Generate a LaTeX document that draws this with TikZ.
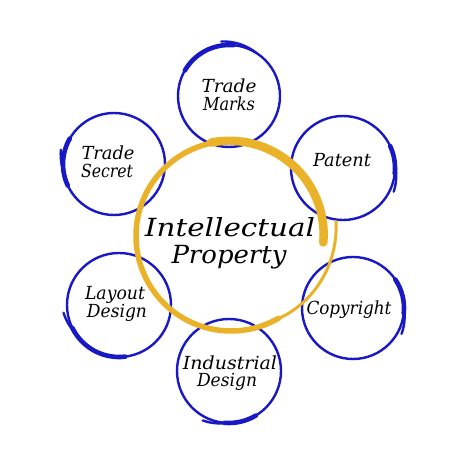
\documentclass[tikz,border=0pt]{standalone}
\usepackage{graphicx}
\usepackage{fontspec}
\setmainfont{DejaVu Serif}
\definecolor{ipblue}{RGB}{24,24,196}
\definecolor{ipgold}{RGB}{234,178,40}
\newcommand{\hw}[2]{\resizebox{#1pt}{\height}{#2}}
\newcommand{\handring}[6]{%
  \draw[thinring] (#1) circle[radius=#2];
  \draw[thickring, shift={(#1)}] (#3:#2) arc[start angle=#3, end angle=#4, radius=#2];
  \draw[thinring, shift={(#1)}] plot[domain=#5:#6, samples=25, smooth] (\x:{#2+4*(\x-(#6))/((#5)-(#6))});
}
\tikzset{
  thinring/.style={draw=ipblue, line width=2.4pt, line cap=round},
  thickring/.style={draw=ipblue, line width=4.6pt, line cap=round},
  goldtail/.style={draw=ipgold, line width=3pt, line cap=round},
  goldmid/.style={draw=ipgold, line width=5.5pt, line cap=round},
  goldthick/.style={draw=ipgold, line width=8.5pt, line cap=round},
  lbl/.style={font=\fontsize{18pt}{18pt}\selectfont\itshape, anchor=base, inner sep=0pt},
  biglbl/.style={font=\fontsize{25pt}{25pt}\selectfont\itshape, anchor=base, inner sep=0pt},
}
\begin{document}
\begin{tikzpicture}[x=1pt,y=1pt]
\useasboundingbox[fill=white] (0,0) rectangle (474,474);
% centres
\coordinate (ip) at (231,238);
\coordinate (tm) at (229,378);
\coordinate (pa) at (343,306);
\coordinate (co) at (353,166);
\coordinate (id) at (229,103);
\coordinate (ld) at (119,169);
\coordinate (ts) at (114,310);
% blue rings
\handring{tm}{51}{85}{150}{98}{58}
\handring{ts}{51}{150}{205}{165}{188}
\handring{pa}{52}{-6}{25}{-25}{5}
\handring{co}{51}{-6}{34}{-28}{0}
\handring{id}{52}{-95}{-59}{-118}{-92}
\handring{ld}{52}{-154}{-83}{188}{212}
% gold ring
\draw[goldtail, shift={(ip)}] plot[domain=8:-62, samples=30, smooth] (\x:{95+11*(\x+62)/70});
\draw[goldmid, shift={(ip)}] (-60:95) arc[start angle=-60, end angle=-262, radius=95];
\draw[goldthick, shift={(ip)}] plot[domain=102:-4, samples=40, smooth] (\x:{92.5+3*(\x+4)/106});
% labels
\node[biglbl] (ipa) at (230,237) {\hw{170}{Intellectual}};
\node[biglbl] (ipb) at (229,210) {\hw{115}{Property}};
\node[lbl] (tma) at (229,381) {\hw{55}{Trade}};
\node[lbl] (tmb) at (229,363) {\hw{52}{Marks}};
\node[lbl] (tsa) at (108,314) {\hw{53}{Trade}};
\node[lbl] (tsb) at (107,296) {\hw{52}{Secret}};
\node[lbl] (pat) at (342,307) {\hw{58}{Patent}};
\node[lbl] (cop) at (349,159) {\hw{85}{Copyright}};
\node[lbl] (ida) at (230,104) {\hw{94}{Industrial}};
\node[lbl] (idb) at (227,87) {\hw{60}{Design}};
\node[lbl] (lda) at (115,174) {\hw{60}{Layout}};
\node[lbl] (ldb) at (117,156) {\hw{60}{Design}};
\end{tikzpicture}
\end{document}
